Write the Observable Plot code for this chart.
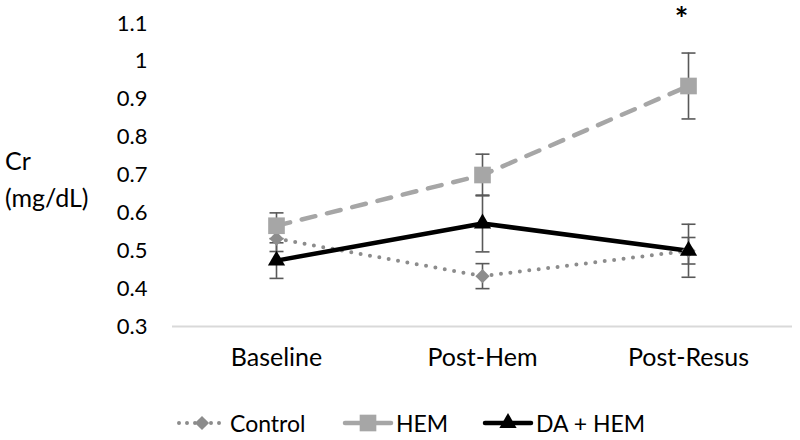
<!DOCTYPE html>
<html>
<head>
<meta charset="utf-8">
<script src="https://cdn.jsdelivr.net/npm/d3@7"></script>
<script src="https://cdn.jsdelivr.net/npm/@observablehq/plot@0.6"></script>
<style>
  html, body { margin: 0; padding: 0; background: #fff; }
  #wrap { position: relative; width: 800px; height: 440px; font-family: Lato, "Open Sans", sans-serif; color: #000; overflow: hidden; }
  #ylab { position: absolute; left: 5px; top: 142px; font-size: 25px; line-height: 37px; }
  .leg { position: absolute; top: 409px; height: 28px; display: flex; align-items: center; font-size: 23px; }
  .leg svg { margin-right: 2px; }
</style>
</head>
<body>
<div id="wrap">
  <div id="chart"></div>
  <div id="ylab">Cr<br>(mg/dL)</div>
</div>
<script>
const categories = ["Baseline", "Post-Hem", "Post-Resus"];
const seriesNames = ["Control", "HEM", "DA + HEM"];
const controlValues = [0.532, 0.433, 0.500];
const controlErrors = [0.034, 0.033, 0.035];
const hemValues = [0.566, 0.700, 0.935];
const hemErrors = [0.034, 0.055, 0.087];
const daHemValues = [0.474, 0.572, 0.500];
const daHemErrors = [0.047, 0.075, 0.070];
const significance = ["", "", "*"];
const yTicks = [0.3, 0.4, 0.5, 0.6, 0.7, 0.8, 0.9, 1.0, 1.1];

const styles = {
  "Control": {color: "#8c8c8c", width: 4, dash: "0,9.5", cap: "round", symbol: "diamond2", r: 6.4},
  "HEM": {color: "#a6a6a6", width: 4.5, dash: "14,12", cap: "round", symbol: "square", r: 9.4},
  "DA + HEM": {color: "#000000", width: 4.5, dash: null, cap: "round", symbol: "triangle", r: 6.4}
};

function rows(name, vals, errs) {
  return categories.map((c, i) => ({series: name, cat: c, v: vals[i], lo: vals[i] - errs[i], hi: vals[i] + errs[i]}));
}
const control = rows("Control", controlValues, controlErrors);
const hem = rows("HEM", hemValues, hemErrors);
const daHem = rows("DA + HEM", daHemValues, daHemErrors);
const all = [...control, ...hem, ...daHem];
const sig = categories.map((c, i) => ({cat: c, y: hemValues[i] + hemErrors[i], label: significance[i]})).filter(d => d.label);

const capSymbol = {
  draw(context, size) {
    const r = Math.sqrt(size / Math.PI);
    context.moveTo(-r, 0);
    context.lineTo(r, 0);
  }
};

const lineMark = (data, name) => {
  const s = styles[name];
  return Plot.line(data, {x: "cat", y: "v", stroke: s.color, strokeWidth: s.width, strokeDasharray: s.dash, strokeLinecap: s.cap, strokeLinejoin: "round"});
};
const dotMark = (data, name) => {
  const s = styles[name];
  return Plot.dot(data, {x: "cat", y: "v", symbol: () => s.symbol, r: s.r, fill: s.color, stroke: "none"});
};

const plot = Plot.plot({
  width: 800,
  height: 360,
  marginLeft: 172,
  marginRight: 8,
  marginTop: 23,
  marginBottom: 34,
  style: {fontFamily: "Lato, 'Open Sans', sans-serif", background: "#fff", color: "#000", overflow: "visible"},
  x: {type: "point", domain: categories, padding: 0.5},
  y: {domain: [0.3, 1.1]},
  symbol: {type: "identity"},
  marks: [
    Plot.ruleY([0.3], {stroke: "#d9d9d9", strokeWidth: 2}),
    Plot.axisY({ticks: yTicks, tickSize: 0, tickPadding: 25, fontSize: 22, label: null, tickFormat: d => String(+d.toFixed(1))}),
    Plot.axisX({tickSize: 0, tickPadding: 22, fontSize: 25, label: null}),
    lineMark(control, "Control"),
    lineMark(hem, "HEM"),
    lineMark(daHem, "DA + HEM"),
    Plot.ruleX(all, {x: "cat", y1: "lo", y2: "hi", stroke: "#595959", strokeWidth: 1.6}),
    Plot.dot(all, {x: "cat", y: "lo", symbol: capSymbol, r: 7, fill: "none", stroke: "#595959", strokeWidth: 1.6}),
    Plot.dot(all, {x: "cat", y: "hi", symbol: capSymbol, r: 7, fill: "none", stroke: "#595959", strokeWidth: 1.6}),
    dotMark(control, "Control"),
    dotMark(hem, "HEM"),
    dotMark(daHem, "DA + HEM"),
    Plot.text(sig, {x: "cat", y: "y", text: "label", dy: -32, dx: -7, fontSize: 32, fontWeight: "bold", fill: "#000"})
  ]
});
document.getElementById("chart").appendChild(plot);

// Legend (HTML below the plot SVG)
const legendLefts = {"Control": 176, "HEM": 342, "DA + HEM": 482};
const symbolPaths = {
  "diamond2": d3.symbol(d3.symbolDiamond2, Math.PI * 6.4 * 6.4)(),
  "square": d3.symbol(d3.symbolSquare, Math.PI * 9.4 * 9.4)(),
  "triangle": d3.symbol(d3.symbolTriangle, Math.PI * 6.4 * 6.4)()
};
const wrap = document.getElementById("wrap");
seriesNames.forEach(name => {
  const s = styles[name];
  const div = document.createElement("div");
  div.className = "leg";
  div.style.left = legendLefts[name] + "px";
  const svg = d3.create("svg").attr("width", 52).attr("height", 24);
  svg.append("line").attr("x1", 3).attr("x2", 49).attr("y1", 12).attr("y2", 12)
    .attr("stroke", s.color).attr("stroke-width", s.width)
    .attr("stroke-dasharray", name === "Control" ? "0,8" : null)
    .attr("stroke-linecap", "round");
  svg.append("path").attr("d", symbolPaths[s.symbol]).attr("transform", "translate(26,12)").attr("fill", s.color);
  div.appendChild(svg.node());
  const span = document.createElement("span");
  span.textContent = name;
  div.appendChild(span);
  wrap.appendChild(div);
});
</script>
</body>
</html>
